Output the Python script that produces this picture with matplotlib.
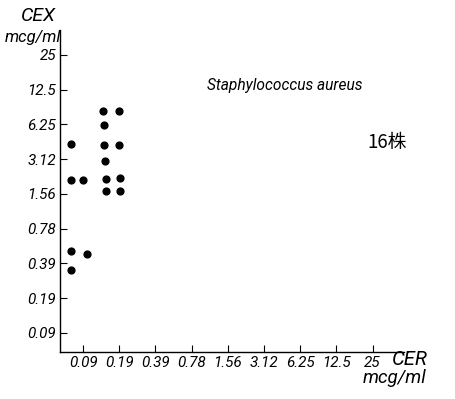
import numpy as np
import matplotlib.pyplot as plt

# MIC scale (mcg/ml), two-fold dilutions
tick_values = [25 / 2 ** k for k in range(8, -1, -1)]
tick_labels = ["0.09", "0.19", "0.39", "0.78", "1.56", "3.12", "6.25", "12.5", "25"]

# 16 strains, CER (x) vs CEX (y)
cer = [0.077, 0.077, 0.098, 0.142, 0.195, 0.146, 0.146, 0.193, 0.149,
       0.152, 0.198, 0.151, 0.198, 0.077, 0.105, 0.077]
cex = [4.21, 2.06, 2.06, 8.2, 8.2, 6.17, 4.12, 4.12, 3.0,
       2.11, 2.16, 1.64, 1.65, 0.495, 0.468, 0.34]

font = "Roboto"

fig = plt.figure(figsize=(4.55, 3.99), dpi=100)
ax = fig.add_axes([0.132, 0.118, 0.756, 0.807])

ax.scatter(cer, cex, s=24, color="black", zorder=3)

ax.set_xscale("log", base=2)
ax.set_yscale("log", base=2)
ax.set_xlim(0.0628, 45.7)
ax.set_ylim(0.0667, 41.2)

ax.set_xticks(tick_values)
ax.set_xticklabels(tick_labels)
ax.set_yticks(tick_values)
ax.set_yticklabels(tick_labels)
ax.minorticks_off()
ax.tick_params(direction="in", length=5, width=0.8, pad=3)
for lab in ax.get_xticklabels() + ax.get_yticklabels():
    lab.set_fontfamily(font)
    lab.set_fontstyle("italic")
    lab.set_fontsize(11)

for side in ["top", "right"]:
    ax.spines[side].set_visible(False)
for side in ["left", "bottom"]:
    ax.spines[side].set_linewidth(1.0)

kw = dict(family=font, style="italic")
fig.text(0.085, 0.96, "CEX", fontsize=14, ha="center", va="center", **kw)
fig.text(0.072, 0.905, "mcg/ml", fontsize=12, ha="center", va="center", **kw)
fig.text(0.862, 0.098, "CER", fontsize=14.5, ha="left", va="center", **kw)
fig.text(0.798, 0.052, "mcg/ml", fontsize=13.5, ha="left", va="center", **kw)

fig.text(0.455, 0.785, "Staphylococcus aureus", fontsize=11.2, ha="left", va="center", **kw)
fig.text(0.808, 0.643, "16株", fontsize=13.5, ha="left", va="center",
         family=["Noto Sans CJK JP", "DejaVu Sans"], style="italic")

fig.savefig("out.png", dpi=100)
